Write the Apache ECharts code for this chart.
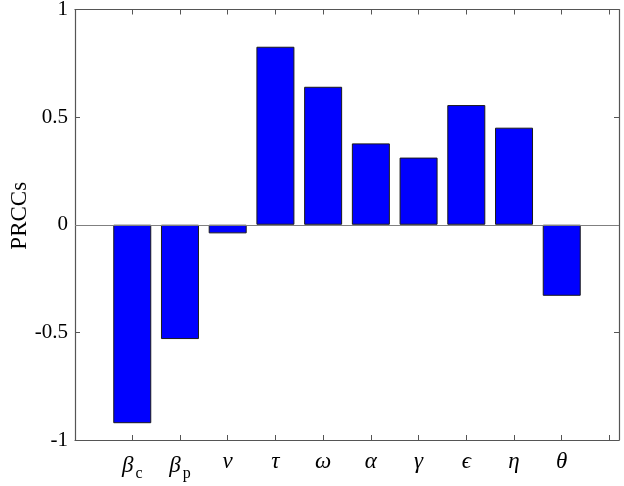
<!DOCTYPE html>
<html>
<head>
<meta charset="utf-8">
<script src="https://cdn.jsdelivr.net/npm/echarts@6/dist/echarts.min.js"></script>
<style>html,body{margin:0;padding:0;background:#fff}#c{width:624px;height:486px}</style>
</head>
<body>
<div id="c"></div>
<script>
var categories = ['beta_c', 'beta_p', 'nu', 'tau', 'omega', 'alpha', 'gamma', 'epsilon', 'eta', 'theta'];
var positions = [1, 2, 3, 4, 5, 6, 7, 8, 9, 10];
var prccValues = [-0.922, -0.531, -0.04, 0.827, 0.641, 0.378, 0.312, 0.556, 0.451, -0.33];
var yTicks = [-1, -0.5, 0, 0.5, 1];
var xTicks = [1, 2, 3, 4, 5, 6, 7, 8, 9, 10, 11];

var labelRich = {
  g: {fontFamily: 'Liberation Serif', fontStyle: 'italic', fontSize: 23, color: '#000'},
  s: {fontFamily: 'Liberation Serif', fontSize: 16, color: '#000', padding: [16, 0, 0, 2]}
};
var labelMap = {
  1: '{g|β}{s|c}', 2: '{g|β}{s|p}', 3: '{g|ν}', 4: '{g|τ}', 5: '{g|ω}',
  6: '{g|α}', 7: '{g|γ}', 8: '{g|ϵ}', 9: '{g|η}', 10: '{g|θ}'
};

var axisColor = '#555';
var chart = echarts.init(document.getElementById('c'), null, {renderer: 'canvas'});
chart.setOption({
  animation: false,
  grid: {left: 75, right: 5, top: 9.5, bottom: 46, containLabel: false, outerBoundsMode: 'none'},
  xAxis: [{
    type: 'value', min: -0.2, max: 11.2, position: 'bottom',
    axisLine: {show: true, onZero: false, lineStyle: {color: axisColor, width: 1.2}},
    axisTick: {show: true, inside: true, length: 5, customValues: xTicks, lineStyle: {color: axisColor}},
    axisLabel: {show: true, customValues: positions, margin: 10,
      formatter: function (v) { return labelMap[Math.round(v)] || ''; }, rich: labelRich},
    splitLine: {show: false}
  }, {
    type: 'value', min: -0.2, max: 11.2, position: 'top',
    axisLine: {show: true, onZero: false, lineStyle: {color: axisColor, width: 1.2}},
    axisTick: {show: true, inside: true, length: 5, customValues: xTicks, lineStyle: {color: axisColor}},
    axisLabel: {show: false},
    splitLine: {show: false}
  }],
  yAxis: [{
    type: 'value', min: -1, max: 1, interval: 0.5, position: 'left',
    name: 'PRCCs', nameLocation: 'middle', nameGap: 44, nameRotate: 90, nameMoveOverlap: false,
    nameTextStyle: {fontFamily: 'Liberation Serif', fontSize: 23, color: '#000', padding: [0, 0, 0, 18]},
    axisLine: {show: true, onZero: false, lineStyle: {color: axisColor, width: 1.2}},
    axisTick: {show: true, inside: true, length: 5, lineStyle: {color: axisColor}},
    axisLabel: {show: true, margin: 7, fontFamily: 'Liberation Serif', fontSize: 21, color: '#000',
      formatter: function (v) { return String(v); }},
    splitLine: {show: false}
  }, {
    type: 'value', min: -1, max: 1, interval: 0.5, position: 'right',
    axisLine: {show: true, onZero: false, lineStyle: {color: axisColor, width: 1.2}},
    axisTick: {show: true, inside: true, length: 5, lineStyle: {color: axisColor}},
    axisLabel: {show: false},
    splitLine: {show: false}
  }],
  series: [{
    type: 'bar',
    xAxisIndex: 0, yAxisIndex: 0,
    barWidth: 38,
    data: positions.map(function (p, i) { return [p, prccValues[i]]; }),
    itemStyle: {color: '#0000ff', borderColor: '#1a1a1a', borderWidth: 1},
    markLine: {
      silent: true, symbol: ['none', 'none'], label: {show: false},
      lineStyle: {color: '#808080', width: 1.2, type: 'solid'},
      data: [{yAxis: 0}]
    }
  }]
});
</script>
</body>
</html>
